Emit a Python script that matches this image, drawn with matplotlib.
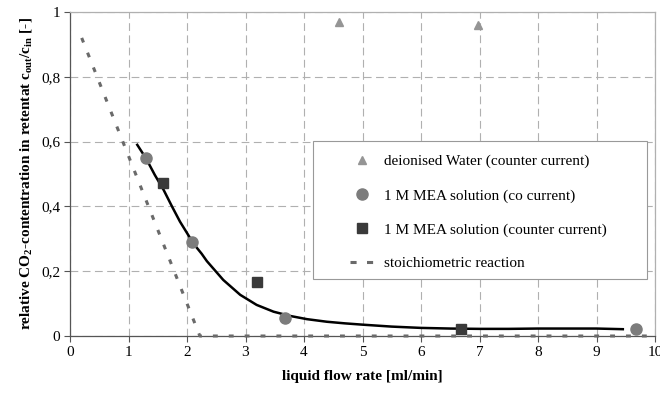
import numpy as np
import matplotlib
matplotlib.use('Agg')
import matplotlib.pyplot as plt
from matplotlib.patches import Rectangle
from matplotlib.lines import Line2D
from matplotlib.ticker import FuncFormatter

plt.rcParams['font.family'] = ['Liberation Serif', 'DejaVu Serif']
plt.rcParams['mathtext.fontset'] = 'custom'
plt.rcParams['mathtext.rm'] = 'Liberation Serif:bold'
plt.rcParams['mathtext.it'] = 'Liberation Serif:bold'
plt.rcParams['mathtext.bf'] = 'Liberation Serif:bold'

# deionised water (counter current)
water_x = [4.59, 6.98]
water_y = [0.970, 0.960]
# 1 M MEA solution (co current)
co_x = [1.30, 2.09, 3.68, 9.68]
co_y = [0.548, 0.289, 0.055, 0.021]
# 1 M MEA solution (counter current)
counter_x = [1.59, 3.19, 6.68]
counter_y = [0.471, 0.168, 0.021]
# stoichiometric reaction
stoich_x = [0.2, 2.22, 10.0]
stoich_y = [0.92, 0.0, 0.0]
# fitted curve
fit_x = [1.15, 1.30, 1.45, 1.60, 1.74, 1.88, 2.02, 2.12, 2.25, 2.34, 2.62,
         2.91, 3.19, 3.48, 3.76, 4.05, 4.39, 4.70, 5.00, 5.50, 6.00, 6.50,
         7.00, 7.50, 8.00, 8.50, 9.00, 9.45]
fit_y = [0.590, 0.548, 0.497, 0.451, 0.401, 0.353, 0.312, 0.283, 0.254,
         0.231, 0.173, 0.127, 0.096, 0.075, 0.062, 0.052, 0.044, 0.039,
         0.035, 0.029, 0.025, 0.023, 0.022, 0.022, 0.023, 0.023, 0.023,
         0.021]

x_ticks = list(range(0, 11))
y_ticks = [0, 0.2, 0.4, 0.6, 0.8, 1.0]

fig = plt.figure(figsize=(6.6, 3.98), dpi=100)
ax = fig.add_axes([70/660, 62/398, 585/660, 324/398])

ax.set_xlim(0, 10)
ax.set_ylim(0, 1)
ax.set_xticks(x_ticks)
ax.set_yticks(y_ticks)
ax.yaxis.set_major_formatter(FuncFormatter(
    lambda v, p: ('%g' % round(v, 1)).replace('.', ',')))
ax.tick_params(direction='out', length=4, width=0.8, colors='#555555',
               labelcolor='black', labelsize=11, pad=3)
ax.grid(True, linestyle=(0, (7, 4)), color='#b0b0b0', linewidth=0.8)
ax.set_axisbelow(True)
for s in ['left', 'bottom']:
    ax.spines[s].set_color('#555555')
    ax.spines[s].set_linewidth(0.9)
for s in ['top', 'right']:
    ax.spines[s].set_color('#b0b0b0')
    ax.spines[s].set_linewidth(0.9)

ax.plot(stoich_x, stoich_y, color='#6a6a6a', linewidth=2.2,
        dashes=(1.6, 3.6), dash_capstyle='butt', clip_on=False, zorder=3)
ax.plot(fit_x, fit_y, color='black', linewidth=1.8, zorder=4)
ax.plot(water_x, water_y, linestyle='none', marker='^', markersize=6,
        color='#959595', label='deionised Water (counter current)', zorder=5)
ax.plot(co_x, co_y, linestyle='none', marker='o', markersize=8,
        color='#7c7c7c', label='1 M MEA solution (co current)', zorder=5,
        clip_on=False)
ax.plot(counter_x, counter_y, linestyle='none', marker='s', markersize=6.5,
        color='#3a3a3a', label='1 M MEA solution (counter current)', zorder=5,
        clip_on=False)

# legend box
box = Rectangle((313/660, 1-279/398), 334/660, 138.5/398,
                transform=fig.transFigure, facecolor='white',
                edgecolor='#999999', linewidth=0.8, zorder=6)
fig.patches.append(box)
h, l = ax.get_legend_handles_labels()
h.append(Line2D([], [], color='#6a6a6a', linewidth=2.2, dashes=(2.0, 3.4),
                dash_capstyle='butt'))
l.append('stoichiometric reaction')
leg = fig.legend(h, l, loc='upper left',
                 bbox_to_anchor=(344/660, 1-148.5/398),
                 frameon=False, fontsize=11, handlelength=1.5,
                 handletextpad=0.75, labelspacing=1.32, borderaxespad=0)
leg.set_zorder(7)

ax.set_xlabel('liquid flow rate [ml/min]', fontsize=11, fontweight='bold',
              labelpad=8)
ax.set_ylabel(r'relative CO$_{2}$-contentration in retentat '
              r'c$_{out}$/c$_{in}$ [-]',
              fontsize=11, fontweight='bold', labelpad=5)

fig.savefig('out.png', dpi=100)
